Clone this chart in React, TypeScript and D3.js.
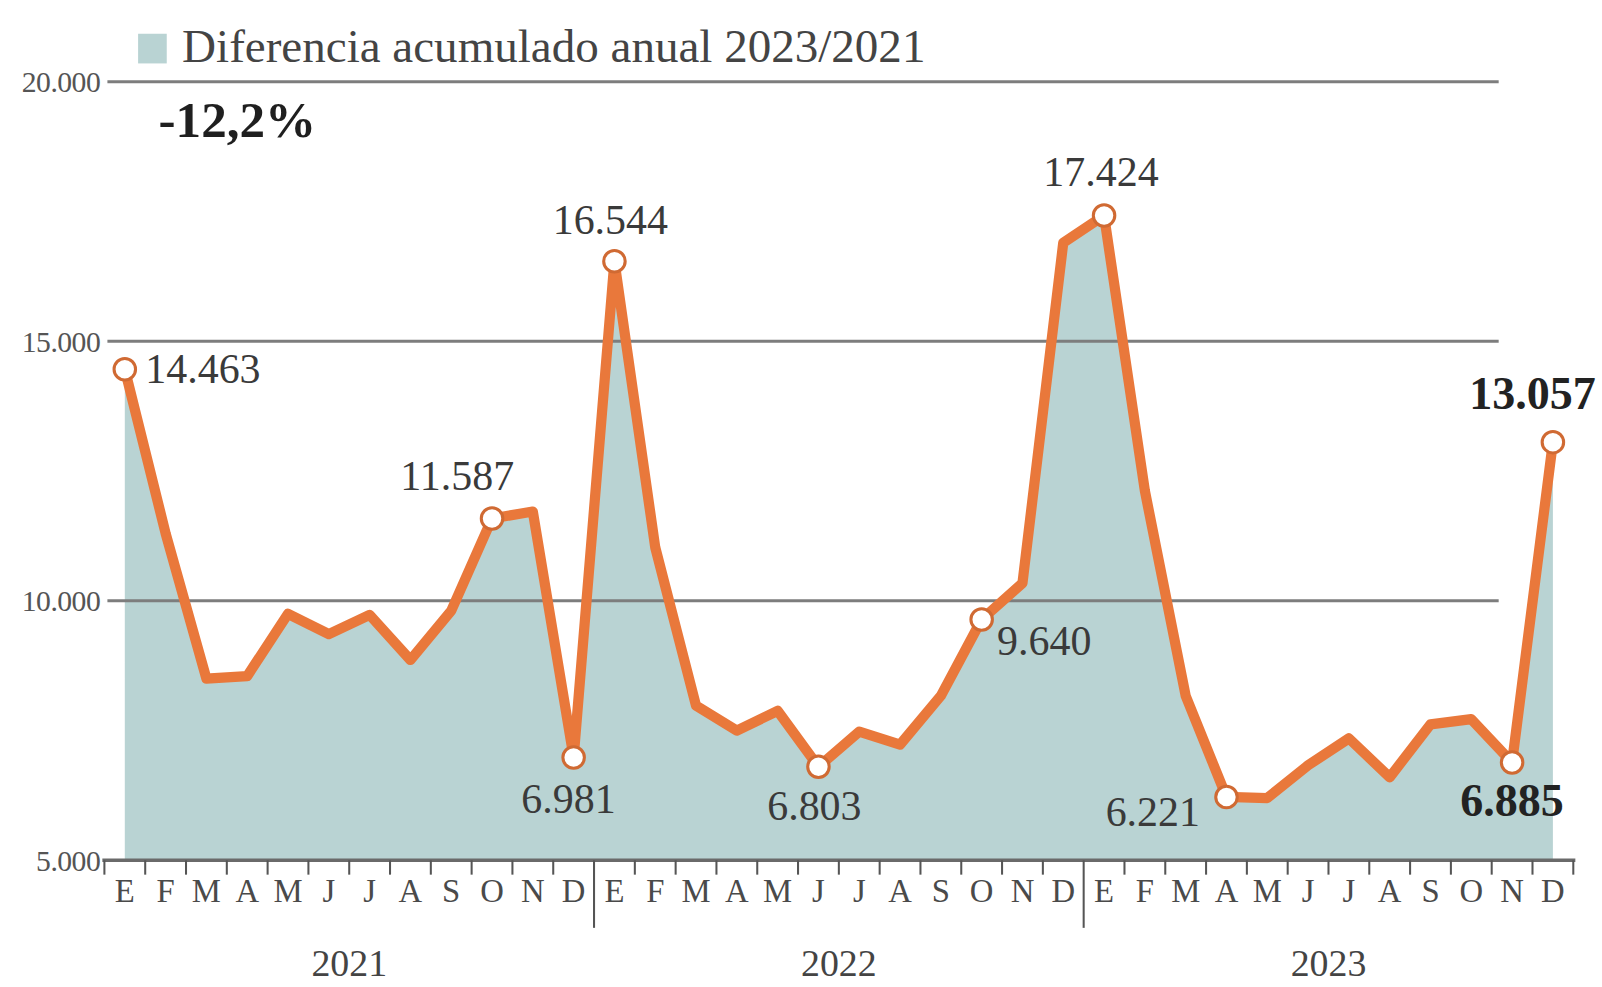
import * as d3 from 'd3'

const years = ['2021', '2022', '2023']
const months = ['E', 'F', 'M', 'A', 'M', 'J', 'J', 'A', 'S', 'O', 'N', 'D']
const yTicks = [5000, 10000, 15000, 20000]

const values2021 = [14463, 11300, 8500, 8550, 9750, 9360, 9730, 8860, 9810, 11587, 11720, 6981]
const values2022 = [16544, 11030, 7980, 7500, 7880, 6803, 7480, 7230, 8170, 9640, 10340, 16900]
const values2023 = [17424, 12120, 8170, 6221, 6200, 6830, 7350, 6600, 7620, 7720, 6885, 13057]

const values = [...values2021, ...values2022, ...values2023]

// indices of labelled points and where their text sits relative to the dot
const labelled = [
  { i: 0, dx: 20, dy: 13, anchor: 'start', bold: false },
  { i: 9, dx: -34, dy: -28, anchor: 'middle', bold: false },
  { i: 11, dx: -5, dy: 54, anchor: 'middle', bold: false },
  { i: 12, dx: -4, dy: -27, anchor: 'middle', bold: false },
  { i: 17, dx: -4, dy: 52, anchor: 'middle', bold: false },
  { i: 21, dx: 15, dy: 35, anchor: 'start', bold: false },
  { i: 24, dx: -3, dy: -29, anchor: 'middle', bold: false },
  { i: 27, dx: -72, dy: 28, anchor: 'middle', bold: false },
  { i: 34, dx: 0, dy: 52, anchor: 'middle', bold: true },
  { i: 35, dx: -20, dy: -32, anchor: 'middle', bold: true },
]

const fmt = (v: number) => d3.format(',')(v).replace(/,/g, '.')

export default function App() {
  const W = 1602
  const H = 987
  const k = 1602 / 1566 // layout below was measured on a 1566-wide view
  const font = '"Liberation Serif", serif'
  const orange = '#e9783b'
  const fill = '#b9d3d3'

  const x = d3.scaleLinear().domain([0, values.length - 1]).range([122, 1518])
  const y = d3.scaleLinear().domain([5000, 20000]).range([841, 80])

  const area = d3.area<number>().x((_, i) => x(i)).y0(y(5000)).y1(d => y(d))
  const line = d3.line<number>().x((_, i) => x(i)).y(d => y(d))

  const boundaries = d3.range(values.length + 1).map(i => i - 0.5)

  return (
    <svg width={W} height={H} style={{ position: 'absolute', left: 0, top: 0, background: '#fff' }}
      fontFamily={font}>
      <g transform={`scale(${k})`}>
        {/* legend */}
        <rect x={135} y={33} width={28} height={29} fill={fill} />
        <text x={178} y={61} fontSize={46} fill="#444">Diferencia acumulado anual 2023/2021</text>
        <text x={155} y={134} fontSize={50} fontWeight="bold" fill="#1f1f1f">-12,2%</text>

        <path d={area(values) ?? ''} fill={fill} />

        {yTicks.slice(1).map(t => (
          <line key={t} x1={105} x2={1465} y1={y(t)} y2={y(t)} stroke="#7d7d7d" strokeWidth={3} />
        ))}
        {yTicks.map(t => (
          <text key={t} x={98} y={y(t) + 10} textAnchor="end" fontSize={29} letterSpacing={-0.5} fill="#555">
            {fmt(t)}
          </text>
        ))}

        {/* x axis */}
        <line x1={x(-0.5) - 2} x2={x(values.length - 0.5) + 2} y1={y(5000)} y2={y(5000)} stroke="#6a6a6a" strokeWidth={3.5} />
        {boundaries.map(b => {
          const sep = b === 11.5 || b === 23.5
          return (
            <line key={b} x1={x(b)} x2={x(b)} y1={y(5000)} y2={y(5000) + (sep ? 66 : 14)}
              stroke="#555" strokeWidth={2} />
          )
        })}
        {values.map((_, i) => (
          <text key={i} x={x(i)} y={882} textAnchor="middle" fontSize={32} fill="#4a4a4a">
            {months[i % 12]}
          </text>
        ))}
        {years.map((yr, j) => (
          <text key={yr} x={x(j * 12 + 5.5)} y={954} textAnchor="middle" fontSize={37} fill="#444">{yr}</text>
        ))}

        <path d={line(values) ?? ''} fill="none" stroke={orange} strokeWidth={10} strokeLinejoin="round" />

        {labelled.map(l => (
          <circle key={l.i} cx={x(l.i)} cy={y(values[l.i])} r={10.5} fill="#fff" stroke="#d06a33" strokeWidth={3} />
        ))}
        {labelled.map(l => (
          <text key={l.i} x={x(l.i) + l.dx} y={y(values[l.i]) + l.dy} textAnchor={l.anchor as any}
            fontSize={l.bold ? 45 : 41} fontWeight={l.bold ? 'bold' : 'normal'} fill={l.bold ? '#222' : '#3a3a3a'}>
            {fmt(values[l.i])}
          </text>
        ))}
      </g>
    </svg>
  )
}
